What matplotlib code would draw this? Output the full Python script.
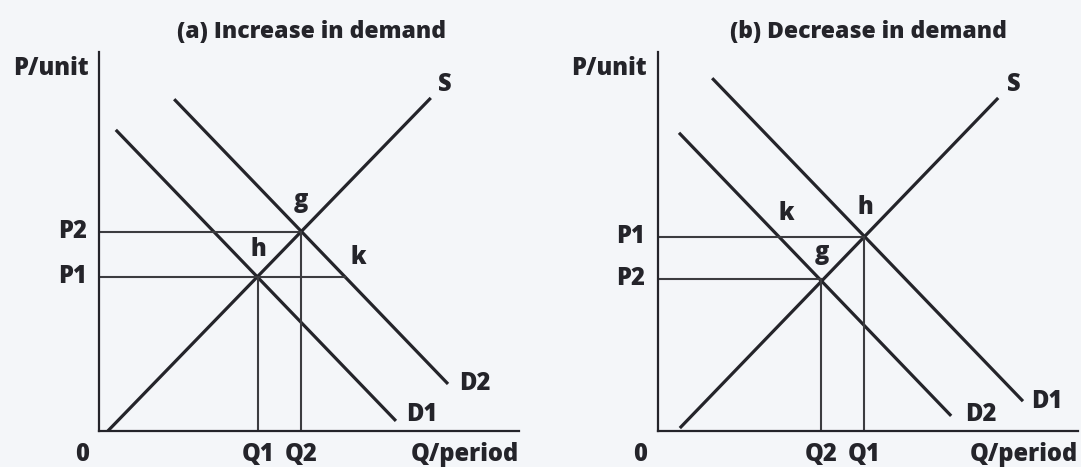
import matplotlib
matplotlib.use("Agg")
import matplotlib.pyplot as plt

# ---------------- data ----------------
titles = ["(a) Increase in demand", "(b) Decrease in demand"]

# panel (a): supply and two demand curves (endpoints, in quantity/price units)
a_supply_q = [0.21, 7.90]
a_supply_p = [0.00, 7.93]
a_d1_q = [0.40, 7.07]
a_d1_p = [7.17, 0.24]
a_d2_q = [1.79, 8.31]
a_d2_p = [7.90, 1.12]
a_Q = {"Q1": 3.79, "Q2": 4.81}
a_P = {"P1": 3.67, "P2": 4.74}
a_k_q = 5.86

# panel (b)
b_supply_q = [0.52, 8.10]
b_supply_p = [0.07, 7.93]
b_d1_q = [1.29, 8.69]
b_d1_p = [8.40, 0.71]
b_d2_q = [0.50, 6.98]
b_d2_p = [7.10, 0.36]
b_Q = {"Q2": 3.88, "Q1": 4.90}
b_P = {"P1": 4.62, "P2": 3.62}
b_k_q = 2.79

# ---------------- style ----------------
W, H = 1081, 467
BG = "#f4f6f9"
INK = "#24242a"
GUIDE = "#3c3c40"
FONT = ["Open Sans", "DejaVu Sans"]
WEIGHT = 800
LS = 17   # label font size
TS = 16.5 # title font size

fig = plt.figure(figsize=(W / 100, H / 100), dpi=100, facecolor=BG)

PX = 42.0  # pixels per unit


def make_axes(x0_px):
    left = x0_px / W
    bottom = (H - 431) / H
    width = 420 / W
    height = 379 / H
    ax = fig.add_axes([left, bottom, width, height])
    ax.set_xlim(0, 420 / PX)
    ax.set_ylim(0, 379 / PX)
    ax.set_facecolor(BG)
    for s in ["top", "right"]:
        ax.spines[s].set_visible(False)
    for s in ["left", "bottom"]:
        ax.spines[s].set_linewidth(1.6)
        ax.spines[s].set_color(INK)
    ax.set_xticks([])
    ax.set_yticks([])
    return ax


txt = dict(fontfamily=FONT, fontweight=WEIGHT, color=INK, clip_on=False)

# ---------- panel (a) ----------
ax = make_axes(99)
ax.plot(a_supply_q, a_supply_p, color=INK, lw=2.3, solid_capstyle="butt")
ax.plot(a_d1_q, a_d1_p, color=INK, lw=2.3, solid_capstyle="butt")
ax.plot(a_d2_q, a_d2_p, color=INK, lw=2.3, solid_capstyle="butt")
ax.plot([0, a_Q["Q2"]], [a_P["P2"], a_P["P2"]], color=GUIDE, lw=1.5)
ax.plot([0, a_k_q], [a_P["P1"], a_P["P1"]], color=GUIDE, lw=1.5)
ax.plot([a_Q["Q1"], a_Q["Q1"]], [0, a_P["P1"]], color=GUIDE, lw=1.5)
ax.plot([a_Q["Q2"], a_Q["Q2"]], [0, a_P["P2"]], color=GUIDE, lw=1.5)

ax.text(5.05, 9.50, titles[0], ha="center", va="center", fontsize=TS, **txt)
ax.text(-0.24, 8.62, "P/unit", ha="right", va="center", fontsize=LS, **txt)
for name, v in a_P.items():
    ax.text(-0.28, v, name, ha="right", va="center", fontsize=LS, **txt)
ax.text(-0.4, -0.57, "0", ha="center", va="center", fontsize=LS, **txt)
for name, v in a_Q.items():
    ax.text(v, -0.57, name, ha="center", va="center", fontsize=LS, **txt)
ax.text(10.0, -0.57, "Q/period", ha="right", va="center", fontsize=LS, **txt)
ax.text(8.24, 8.26, "S", ha="center", va="center", fontsize=LS, **txt)
ax.text(4.81, 5.48, "g", ha="center", va="center", fontsize=LS, **txt)
ax.text(3.79, 4.31, "h", ha="center", va="center", fontsize=LS, **txt)
ax.text(6.17, 4.14, "k", ha="center", va="center", fontsize=LS, **txt)
ax.text(8.95, 1.14, "D2", ha="center", va="center", fontsize=LS, **txt)
ax.text(7.69, 0.40, "D1", ha="center", va="center", fontsize=LS, **txt)

# ---------- panel (b) ----------
bx = make_axes(658)
bx.plot(b_supply_q, b_supply_p, color=INK, lw=2.3, solid_capstyle="butt")
bx.plot(b_d1_q, b_d1_p, color=INK, lw=2.3, solid_capstyle="butt")
bx.plot(b_d2_q, b_d2_p, color=INK, lw=2.3, solid_capstyle="butt")
bx.plot([0, b_Q["Q1"]], [b_P["P1"], b_P["P1"]], color=GUIDE, lw=1.5)
bx.plot([0, b_Q["Q2"]], [b_P["P2"], b_P["P2"]], color=GUIDE, lw=1.5)
bx.plot([b_Q["Q1"], b_Q["Q1"]], [0, b_P["P1"]], color=GUIDE, lw=1.5)
bx.plot([b_Q["Q2"], b_Q["Q2"]], [0, b_P["P2"]], color=GUIDE, lw=1.5)

bx.text(5.02, 9.50, titles[1], ha="center", va="center", fontsize=TS, **txt)
bx.text(-0.26, 8.62, "P/unit", ha="right", va="center", fontsize=LS, **txt)
for name, v in b_P.items():
    bx.text(-0.31, v, name, ha="right", va="center", fontsize=LS, **txt)
bx.text(-0.43, -0.57, "0", ha="center", va="center", fontsize=LS, **txt)
for name, v in b_Q.items():
    bx.text(v, -0.57, name, ha="center", va="center", fontsize=LS, **txt)
bx.text(10.0, -0.57, "Q/period", ha="right", va="center", fontsize=LS, **txt)
bx.text(8.48, 8.24, "S", ha="center", va="center", fontsize=LS, **txt)
bx.text(3.05, 5.17, "k", ha="center", va="center", fontsize=LS, **txt)
bx.text(4.93, 5.31, "h", ha="center", va="center", fontsize=LS, **txt)
bx.text(3.90, 4.24, "g", ha="center", va="center", fontsize=LS, **txt)
bx.text(7.69, 0.40, "D2", ha="center", va="center", fontsize=LS, **txt)
bx.text(9.26, 0.71, "D1", ha="center", va="center", fontsize=LS, **txt)

fig.savefig("out.png", dpi=100, facecolor=BG)
